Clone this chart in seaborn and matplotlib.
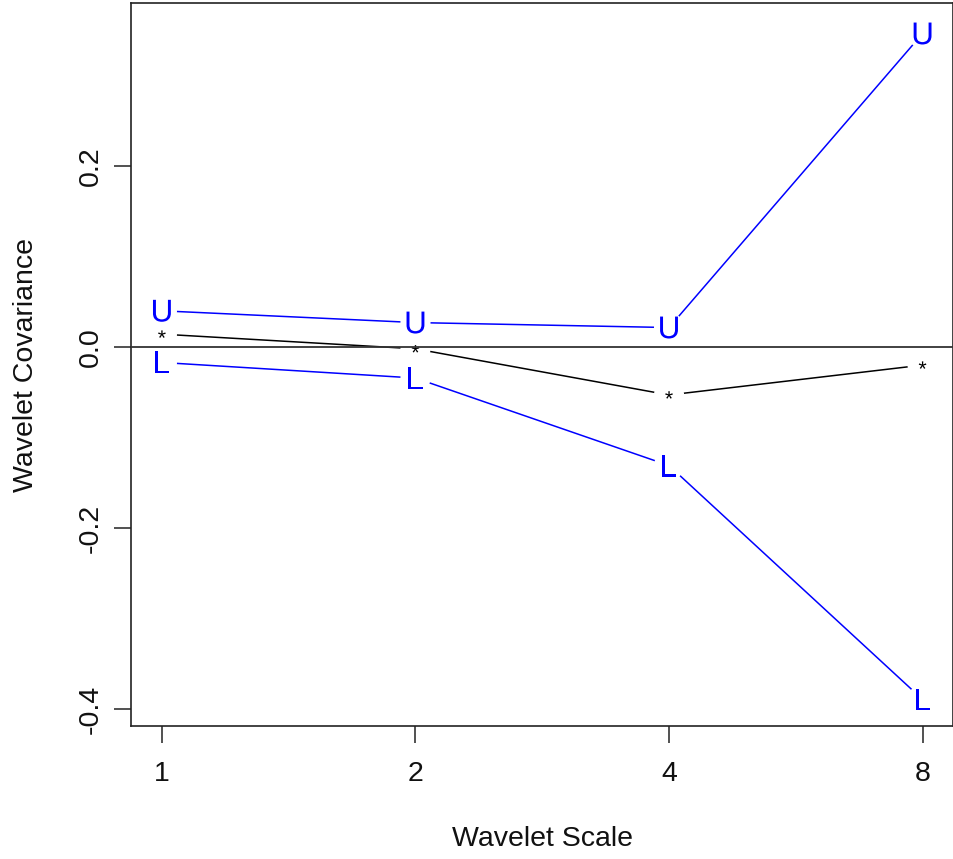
import matplotlib
matplotlib.use("Agg")
import matplotlib.pyplot as plt
import seaborn as sns
import pandas as pd

# ---- data ----
scales = [1, 2, 4, 8]
upper = [0.040, 0.027, 0.0215, 0.3464]
estimate = [0.0142, -0.002, -0.053, -0.020]
lower = [-0.0171, -0.0343, -0.131, -0.3895]
x_ticks = [1, 2, 4, 8]
x_tick_labels = ["1", "2", "4", "8"]
y_ticks = [-0.4, -0.2, 0.0, 0.2]
y_tick_labels = ["-0.4", "-0.2", "0.0", "0.2"]

sns.set_style("ticks")
plt.rcParams["font.family"] = ["Liberation Sans", "DejaVu Sans"]
plt.rcParams["mathtext.fontset"] = "custom"
plt.rcParams["mathtext.rm"] = "Liberation Sans"
plt.rcParams["mathtext.it"] = "Liberation Sans"

df = pd.concat([
    pd.DataFrame({"scale": scales, "value": upper, "series": "U"}),
    pd.DataFrame({"scale": scales, "value": estimate, "series": "*"}),
    pd.DataFrame({"scale": scales, "value": lower, "series": "L"}),
], ignore_index=True)

palette = {"U": "#0000ff", "L": "#0000ff", "*": "#000000"}
markers = {"U": r"$\mathrm{U}$", "L": r"$\mathrm{L}$", "*": r"$\mathrm{*}$"}
sizes = {"U": 250, "L": 250, "*": 30}

fig = plt.figure(figsize=(9.54, 8.59), dpi=100)
ax = fig.add_axes([131.5 / 954, (859 - 726) / 859, (953 - 131.5) / 954, (726 - 3.3) / 859])

sns.lineplot(data=df, x="scale", y="value", hue="series", palette=palette,
             legend=False, linewidth=1.1, ax=ax, zorder=2, sort=True,
             errorbar=None)

# white disks leave the gaps around each point (type="b" look)
sns.scatterplot(data=df, x="scale", y="value", color="white", s=470,
                edgecolor="none", linewidth=0, legend=False, ax=ax, zorder=3)

for name in ["U", "*", "L"]:
    sub = df[df["series"] == name]
    sns.scatterplot(data=sub, x="scale", y="value", color=palette[name],
                    marker=markers[name], s=sizes[name], linewidth=0,
                    edgecolor="none", legend=False, ax=ax, zorder=4)

ax.axhline(0, color="#333333", linewidth=1.3, zorder=5)

ax.set_xscale("log", base=2)
ax.set_xlim(2 ** -0.12, 2 ** 3.12)
ax.set_ylim(-0.4188, 0.3798)
ax.minorticks_off()
ax.set_xticks(x_ticks)
ax.set_xticklabels(x_tick_labels)
ax.set_yticks(y_ticks)
ax.set_yticklabels(y_tick_labels, rotation=90, va="center")

ax.tick_params(axis="both", length=12.2, width=1.1, color="#222222",
               labelsize=20.5, labelcolor="#111111", direction="out")
ax.tick_params(axis="x", pad=13)
ax.tick_params(axis="y", pad=8)

for sp in ax.spines.values():
    sp.set_linewidth(1.2)
    sp.set_color("#222222")
    sp.set_visible(True)

ax.set_xlabel("Wavelet Scale", fontsize=20.5, color="#111111")
ax.set_ylabel("Wavelet Covariance", fontsize=20.5, color="#111111")
ax.xaxis.set_label_coords(0.5, -0.139)
ax.yaxis.set_label_coords(-0.1126, 0.5)

fig.savefig("out.png", dpi=100, facecolor="white")
